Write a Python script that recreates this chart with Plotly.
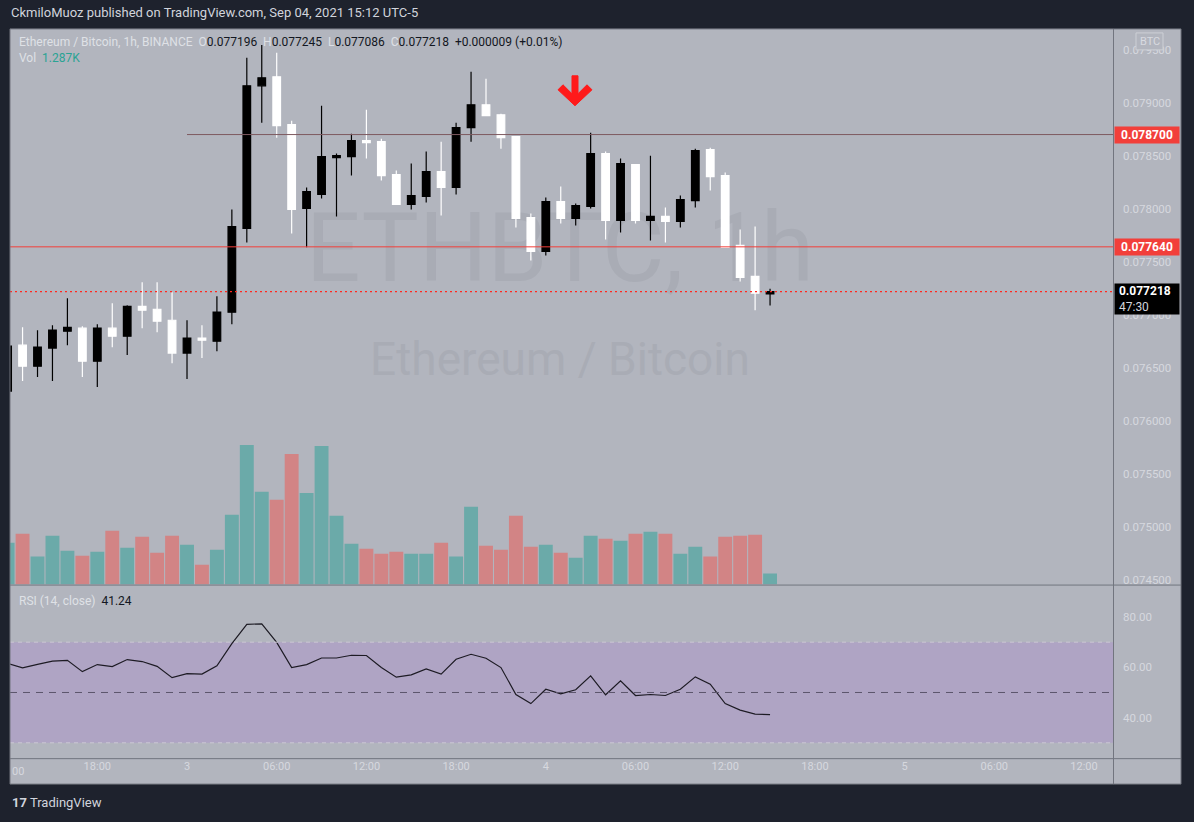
import plotly.graph_objects as go
import pandas as pd

W, H = 1194, 822

# ---------------- data ----------------
times = pd.date_range("2021-09-02 12:00", periods=52, freq="h")

opens = [0.076279, 0.076712, 0.076514, 0.076684, 0.076844, 0.076872, 0.076561, 0.076872,
         0.076797, 0.077079, 0.077051, 0.076947, 0.076637, 0.076778, 0.076750, 0.077023,
         0.077814, 0.079160, 0.079245, 0.078793, 0.078002, 0.078134, 0.078482, 0.078492,
         0.078642, 0.078633, 0.078322, 0.078040, 0.078115, 0.078350, 0.078200, 0.078765,
         0.078981, 0.078887, 0.078680, 0.077917, 0.077597, 0.078068, 0.077908, 0.078021,
         0.078520, 0.077889, 0.078416, 0.077889, 0.077927, 0.077880, 0.078077, 0.078557,
         0.078313, 0.077653, 0.077362, 0.077196]
highs = [0.076720, 0.076881, 0.076853, 0.076900, 0.077154, 0.076891, 0.076910, 0.077107,
         0.077089, 0.077305, 0.077305, 0.077211, 0.076947, 0.076900, 0.077173, 0.077993,
         0.079424, 0.079546, 0.079471, 0.078831, 0.078200, 0.078972, 0.078520, 0.078708,
         0.078934, 0.078661, 0.078360, 0.078426, 0.078539, 0.078633, 0.078812, 0.079292,
         0.079226, 0.078896, 0.078680, 0.077955, 0.078106, 0.078209, 0.078049, 0.078718,
         0.078539, 0.078473, 0.078416, 0.078501, 0.078011, 0.078124, 0.078567, 0.078576,
         0.078341, 0.077804, 0.077832, 0.077245]
lows = [0.076260, 0.076373, 0.076411, 0.076373, 0.076712, 0.076411, 0.076316, 0.076693,
        0.076618, 0.076872, 0.076834, 0.076542, 0.076392, 0.076590, 0.076655, 0.076910,
        0.077682, 0.078812, 0.078670, 0.077767, 0.077635, 0.078096, 0.077927, 0.078313,
        0.078473, 0.078266, 0.078040, 0.077993, 0.078058, 0.077936, 0.078134, 0.078633,
        0.078878, 0.078567, 0.077823, 0.077512, 0.077559, 0.077861, 0.077842, 0.078002,
        0.077710, 0.077776, 0.077861, 0.077701, 0.077682, 0.077823, 0.078011, 0.078171,
        0.077635, 0.077314, 0.077042, 0.077086]
closes = [0.076702, 0.076514, 0.076693, 0.076853, 0.076881, 0.076561, 0.076872, 0.076797,
          0.077079, 0.077042, 0.076938, 0.076637, 0.076778, 0.076759, 0.077023, 0.077832,
          0.079160, 0.079235, 0.078783, 0.077993, 0.078162, 0.078492, 0.078501, 0.078642,
          0.078623, 0.078313, 0.078040, 0.078124, 0.078350, 0.078200, 0.078765, 0.078981,
          0.078878, 0.078670, 0.077908, 0.077597, 0.078068, 0.077908, 0.078030, 0.078520,
          0.077889, 0.078426, 0.077889, 0.077927, 0.077880, 0.078087, 0.078548, 0.078303,
          0.077635, 0.077352, 0.077202, 0.077218]
volumes_k = [4.91, 5.97, 3.28, 5.73, 3.98, 3.39, 3.86, 6.32, 4.33, 5.62, 3.74, 5.73,
             4.68, 2.34, 4.10, 8.19, 16.38, 10.88, 9.95, 15.33, 10.76, 16.26,
             8.07, 4.80, 4.21, 3.63, 3.86, 3.63, 3.63, 4.91, 3.28, 9.13,
             4.56, 4.10, 8.07, 4.45, 4.68, 3.74, 3.16, 5.73, 5.38, 5.15,
             5.97, 6.20, 5.97, 3.63, 4.45, 3.28, 5.62, 5.73, 5.85, 1.287]
rsi = [61.5, 59.8, 61.2, 62.5, 62.8, 58.3, 61.1, 60.3, 63.1, 62.3, 60.4, 55.9,
       57.5, 57.3, 60.6, 69.4, 77.1, 77.3, 69.9, 59.9, 61.1, 63.7, 63.7, 64.8,
       64.7, 59.9, 56.1, 57.0, 59.4, 57.3, 63.2, 65.2, 63.6, 59.9, 49.2, 45.6,
       51.3, 49.5, 51.1, 56.6, 49.1, 54.6, 48.8, 49.2, 48.8, 51.3, 56.2, 53.3,
       45.6, 43.0, 41.4, 41.24]

x_tick_vals = list(pd.date_range("2021-09-02 18:00", "2021-09-05 12:00", freq="6h"))
x_tick_text = ["18:00", "3", "06:00", "12:00", "18:00", "4", "06:00", "12:00",
               "18:00", "5", "06:00", "12:00"]
price_ticks = [0.0745, 0.0750, 0.0755, 0.0760, 0.0765, 0.0770, 0.0775, 0.0780,
               0.0785, 0.0790, 0.0795]
rsi_ticks = [40, 60, 80]
level_high = 0.0787
level_low = 0.07764
level_high_start = "2021-09-03 00:00"
last_price = 0.077218
last_change = "+0.000009 (+0.01%)"
countdown = "47:30"

# ---------------- styling ----------------
DARK = "#1e222d"
BG = "#b2b5be"
FRAME = "#72757f"
TXT = "#d6d8de"
RED = "#f23f3a"
UP_VOL = "#6baaa9"
DN_VOL = "#d28485"
FONT = "Roboto"


def px(x):
    return x / W


def py(y):
    return 1 - y / H


x_range = ["2021-09-02 12:09:36", "2021-09-05 13:56:24"]
price_range = [0.074452, 0.079697]
vol_range = [0, 65.2]
rsi_range = [23.9, 92.5]

vol_colors = [UP_VOL if c >= o else DN_VOL for o, c in zip(opens, closes)]

fig = go.Figure()

# watermark (as text trace so it sits below the candles)
fig.add_trace(go.Scatter(
    x=[pd.Timestamp("2021-09-04 00:57")] * 2,
    y=[38.4, 25.9],
    mode="text",
    text=["ETHBTC, 1h", "Ethereum / Bitcoin"],
    textfont=dict(family=FONT, size=[96, 46], color="#a9acb5"),
    xaxis="x", yaxis="y", hoverinfo="skip", showlegend=False,
))

fig.add_trace(go.Bar(
    x=times, y=volumes_k, marker=dict(color=vol_colors, line=dict(width=0)),
    xaxis="x", yaxis="y", hoverinfo="skip", showlegend=False,
))

fig.add_trace(go.Candlestick(
    x=times, open=opens, high=highs, low=lows, close=closes,
    increasing=dict(line=dict(color="#000000", width=1.2), fillcolor="#000000"),
    decreasing=dict(line=dict(color="#ffffff", width=1.2), fillcolor="#ffffff"),
    whiskerwidth=0, xaxis="x", yaxis="y2", hoverinfo="skip", showlegend=False,
))

fig.add_trace(go.Scatter(
    x=times, y=rsi, mode="lines", line=dict(color="#1d1b24", width=1.2),
    xaxis="x", yaxis="y3", hoverinfo="skip", showlegend=False,
))

shapes = []
# chart background
shapes.append(dict(type="rect", xref="paper", yref="paper", x0=px(10), x1=px(1181),
                   y0=py(786), y1=py(29), fillcolor=BG, line=dict(width=0), layer="below"))
# RSI band
shapes.append(dict(type="rect", xref="paper", yref="y3", x0=px(10), x1=px(1113),
                   y0=30, y1=70, fillcolor="#afa4c4", line=dict(width=0), layer="below"))
for lvl in (30, 70):
    shapes.append(dict(type="line", xref="paper", yref="y3", x0=px(10), x1=px(1113),
                       y0=lvl, y1=lvl, line=dict(color="#cbc6d4", width=1, dash="4px,4px")))
shapes.append(dict(type="line", xref="paper", yref="y3", x0=px(10), x1=px(1113),
                   y0=50, y1=50, line=dict(color="#5d566c", width=1, dash="7px,6px")))
# price levels
shapes.append(dict(type="line", xref="paper", yref="y2", x0=px(10), x1=px(1113),
                   y0=level_low, y1=level_low, line=dict(color=RED, width=1)))
shapes.append(dict(type="line", xref="x", yref="y2", x0=level_high_start, x1=x_range[1],
                   y0=level_high, y1=level_high, line=dict(color="#7d5a60", width=1)))
shapes.append(dict(type="line", xref="paper", yref="y2", x0=px(10), x1=px(1113),
                   y0=last_price, y1=last_price,
                   line=dict(color="#ff2a20", width=1.3, dash="2px,3px")))
# frame lines
for (x0, y0, x1, y1) in [(10, 29, 1181, 29), (10, 786, 1181, 786), (10, 29, 10, 786),
                         (1181, 29, 1181, 786), (1113.5, 29, 1113.5, 786),
                         (10, 586.5, 1181, 586.5), (10, 760.5, 1181, 760.5)]:
    shapes.append(dict(type="line", xref="paper", yref="paper", x0=px(x0), x1=px(x1),
                       y0=py(y0), y1=py(y1), line=dict(color=FRAME, width=1)))

# red arrow drawing
arrow_pts = [(572, 76), (578, 76), (578, 94), (587, 85), (592, 90), (575, 106),
             (558, 90), (563, 85), (572, 94)]
path = "M " + " L ".join(f"{px(a):.5f},{py(b):.5f}" for a, b in arrow_pts) + " Z"
shapes.append(dict(type="path", xref="paper", yref="paper", path=path,
                   fillcolor="#ff1a1a", line=dict(color="#ff1a1a", width=1)))
# BTC box
shapes.append(dict(type="rect", xref="paper", yref="paper", x0=px(1136), x1=px(1163),
                   y0=py(50), y1=py(33), line=dict(color="#cdd0d6", width=1),
                   fillcolor=BG))

nb = "\u00a0"
L = "#dfe1e6"
D = "#131722"
legend = (f'<span style="color:{L}">Ethereum / Bitcoin, 1h, BINANCE{nb}{nb}</span>'
          f'<span style="color:{L}">O</span><span style="color:{D}">{opens[-1]:.6f}{nb}{nb}</span>'
          f'<span style="color:{L}">H</span><span style="color:{D}">{highs[-1]:.6f}{nb}{nb}</span>'
          f'<span style="color:{L}">L</span><span style="color:{D}">{lows[-1]:.6f}{nb}{nb}</span>'
          f'<span style="color:{L}">C</span><span style="color:{D}">{closes[-1]:.6f}{nb}{nb}'
          f'{last_change}</span>')

annotations = [
    dict(xref="paper", yref="paper", x=px(9), y=py(13), xanchor="left", yanchor="middle",
         text="CkmiloMuoz published on TradingView.com, Sep 04, 2021 15:12 UTC-5",
         font=dict(family=FONT, size=13, color="#d1d4dc"), showarrow=False),
    dict(xref="paper", yref="paper", x=px(17), y=py(42), xanchor="left", yanchor="middle",
         text=legend, font=dict(family=FONT, size=12, color=D), showarrow=False),
    dict(xref="paper", yref="paper", x=px(17), y=py(58), xanchor="left", yanchor="middle",
         text=f'<span style="color:{L}">Vol{nb}{nb}</span><span style="color:#2aa394">{volumes_k[-1]:.3f}K</span>',
         font=dict(family=FONT, size=12), showarrow=False),
    dict(xref="paper", yref="paper", x=px(17), y=py(602), xanchor="left", yanchor="middle",
         text=f'<span style="color:{L}">RSI (14, close){nb}{nb}</span><span style="color:{D}">{rsi[-1]:.2f}</span>',
         font=dict(family=FONT, size=12), showarrow=False),
    dict(xref="paper", yref="paper", x=px(1149.5), y=py(41.5), xanchor="center", yanchor="middle",
         text="BTC", font=dict(family=FONT, size=11, color="#d8dae0"), showarrow=False),
    dict(xref="paper", yref="paper", x=px(10), y=py(773), xanchor="left", yanchor="middle",
         text="00", font=dict(family=FONT, size=11, color=TXT), showarrow=False),
    dict(xref="paper", yref="y2", x=px(1114), y=level_high, xanchor="left", yanchor="middle",
         text=f"<b>{level_high:.6f}</b>", font=dict(family=FONT, size=12, color="white"),
         bgcolor=RED, width=62, height=14, borderpad=1, showarrow=False),
    dict(xref="paper", yref="y2", x=px(1114), y=level_low, xanchor="left", yanchor="middle",
         text=f"<b>{level_low:.6f}</b>", font=dict(family=FONT, size=12, color="white"),
         bgcolor=RED, width=62, height=14, borderpad=1, showarrow=False),
    dict(xref="paper", yref="paper", x=px(1114), y=py(300), xanchor="left", yanchor="middle",
         text=f"{nb}<b>{last_price:.6f}</b><br>{nb}<span style='color:#d1d4dc'>{countdown}</span>",
         font=dict(family=FONT, size=12, color="white"), align="left",
         bgcolor="#000000", width=62, height=28, borderpad=1, showarrow=False),
    dict(xref="paper", yref="paper", x=px(10), y=py(804), xanchor="left", yanchor="middle",
         text="<b>17</b> TradingView", font=dict(family=FONT, size=13, color="#d1d4dc"),
         showarrow=False),
]

fig.update_layout(
    width=W, height=H, margin=dict(l=0, r=0, t=0, b=0),
    paper_bgcolor=DARK, plot_bgcolor=BG,
    showlegend=False, hovermode=False, bargap=0.07, boxgap=0.27,
    font=dict(family=FONT, color=TXT),
    xaxis=dict(domain=[px(10), px(1113)], range=x_range, type="date", anchor="y3",
               tickvals=x_tick_vals, ticktext=x_tick_text, showgrid=False, zeroline=False,
               showline=False, ticks="", tickfont=dict(family=FONT, size=11, color=TXT),
               rangeslider=dict(visible=False), fixedrange=True),
    yaxis=dict(domain=[py(586), py(29)], range=vol_range, visible=False, fixedrange=True),
    yaxis2=dict(overlaying="y", side="right", anchor="x", range=price_range,
                tickvals=price_ticks, ticktext=[f"{v:.6f}" for v in price_ticks],
                showgrid=False, zeroline=False, showline=False, ticks="",
                ticklabelstandoff=9, tickfont=dict(family=FONT, size=11.5, color=TXT),
                fixedrange=True),
    yaxis3=dict(domain=[py(760), py(587)], range=rsi_range, side="right", anchor="x",
                tickvals=rsi_ticks, ticktext=[f"{v:.2f}" for v in rsi_ticks],
                showgrid=False, zeroline=False, showline=False, ticks="",
                ticklabelstandoff=9, tickfont=dict(family=FONT, size=11.5, color=TXT),
                fixedrange=True),
    shapes=shapes, annotations=annotations,
)

fig.write_html(
    "out.html",
    config={"displayModeBar": False},
    post_script="document.body.style.margin='0';document.body.style.overflow='hidden';",
)
